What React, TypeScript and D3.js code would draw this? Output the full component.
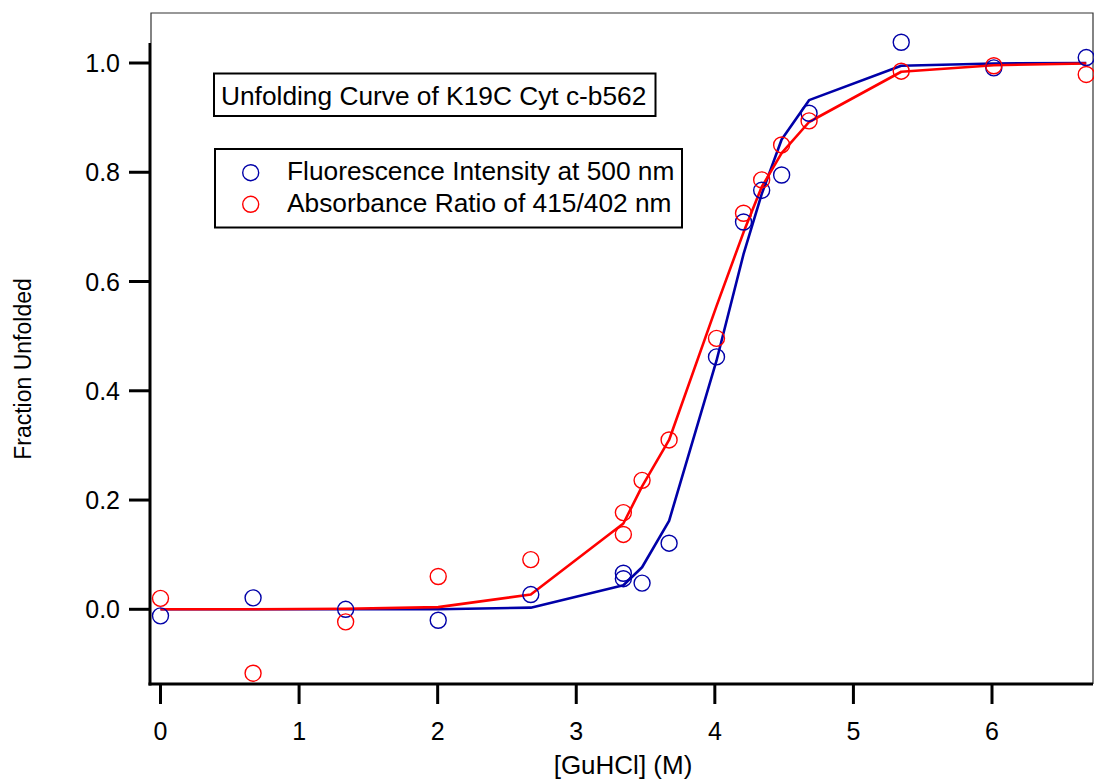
import React from "react";
import * as d3 from "d3";

// ---- data ----
const concX = [0, 0.668, 1.336, 2.004, 2.672, 3.34, 3.34, 3.475, 3.67, 4.012, 4.207, 4.338, 4.482, 4.68, 5.345, 6.013, 6.68];
const fluorY = [-0.012, 0.021, 0.0, -0.02, 0.027, 0.066, 0.056, 0.048, 0.121, 0.462, 0.709, 0.767, 0.795, 0.908, 1.038, 0.991, 1.01];
const absY = [0.02, -0.117, -0.023, 0.06, 0.091, 0.177, 0.137, 0.236, 0.31, 0.496, 0.725, 0.786, 0.85, 0.894, 0.985, 0.995, 0.979];

const fitX = [0, 0.668, 1.336, 2.004, 2.672, 3.34, 3.475, 3.67, 4.012, 4.207, 4.338, 4.482, 4.68, 5.345, 6.013, 6.68];
const fluorFit = [0, 0, 0, 0, 0.003, 0.044, 0.077, 0.162, 0.455, 0.65, 0.76, 0.86, 0.932, 0.995, 0.999, 1.0];
const absFit = [0, 0, 0.001, 0.004, 0.027, 0.157, 0.225, 0.31, 0.555, 0.69, 0.773, 0.835, 0.892, 0.984, 0.996, 0.999];

const xTicks = [0, 1, 2, 3, 4, 5, 6];
const yTicks = [0.0, 0.2, 0.4, 0.6, 0.8, 1.0];

const titleText = "Unfolding Curve of K19C Cyt c-b562";
const legendLabels = ["Fluorescence Intensity at 500 nm", "Absorbance Ratio of 415/402 nm"];
const xTitle = "[GuHCl] (M)";
const yTitle = "Fraction Unfolded";

const BLUE = "#0000a8";
const RED = "#ff0000";
const FONT = "'Liberation Sans', Arial, Helvetica, sans-serif";

export default function App() {
  const W = 1094, H = 782;
  const x = d3.scaleLinear().domain([0, 6]).range([160.5, 992]);
  const y = d3.scaleLinear().domain([0, 1]).range([609.3, 63]);

  const plotLeft = 150, plotRight = 1093, plotTop = 13, plotBottom = 684;
  const yAxisTop = 43;

  const line = d3.line<number>()
    .x((_, i) => x(fitX[i]))
    .y((d) => y(d));

  const legendColors = [BLUE, RED];

  return (
    <svg width={W} height={H} style={{ position: "absolute", left: 0, top: 0, display: "block", background: "#fff" }} fontFamily={FONT}>
      <rect x={0} y={0} width={W} height={H} fill="#fff" />
      {/* thin frame */}
      <path d={`M${plotLeft + 1},${yAxisTop} V${plotTop} H${plotRight} V${plotBottom}`} fill="none" stroke="#333" strokeWidth={1.2} />

      {/* fit lines */}
      <path d={line(fluorFit) || ""} fill="none" stroke={BLUE} strokeWidth={2.6} strokeLinejoin="round" />
      <path d={line(absFit) || ""} fill="none" stroke={RED} strokeWidth={2.6} strokeLinejoin="round" />

      {/* markers */}
      {concX.map((cx, i) => (
        <circle key={"b" + i} cx={x(cx)} cy={y(fluorY[i])} r={8} fill="none" stroke={BLUE} strokeWidth={1.4} />
      ))}
      {concX.map((cx, i) => (
        <circle key={"r" + i} cx={x(cx)} cy={y(absY[i])} r={8} fill="none" stroke={RED} strokeWidth={1.4} />
      ))}

      {/* axes */}
      <line x1={plotLeft} y1={yAxisTop} x2={plotLeft} y2={plotBottom + 1.5} stroke="#000" strokeWidth={3} />
      <line x1={plotLeft - 1.5} y1={plotBottom} x2={plotRight} y2={plotBottom} stroke="#000" strokeWidth={3} />

      {yTicks.map((t) => (
        <g key={"yt" + t}>
          <line x1={plotLeft - 21} x2={plotLeft} y1={y(t)} y2={y(t)} stroke="#000" strokeWidth={3} />
          <text x={120} y={y(t)} dy="0.36em" textAnchor="end" fontSize={25} fill="#000">{t.toFixed(1)}</text>
        </g>
      ))}
      {xTicks.map((t) => (
        <g key={"xt" + t}>
          <line x1={x(t)} x2={x(t)} y1={plotBottom} y2={plotBottom + 20} stroke="#000" strokeWidth={3} />
          <text x={x(t)} y={740} textAnchor="middle" fontSize={25} fill="#000">{t}</text>
        </g>
      ))}

      <text x={623} y={774} textAnchor="middle" fontSize={26} fill="#000">{xTitle}</text>
      <text transform={`translate(31,369) rotate(-90)`} textAnchor="middle" fontSize={23} fill="#000">{yTitle}</text>

      {/* title box */}
      <rect x={214} y={73.5} width={441.5} height={42.5} fill="#fff" stroke="#000" strokeWidth={2} />
      <text x={221} y={104.5} fontSize={26.3} fill="#000">{titleText}</text>

      {/* legend */}
      <rect x={215} y={149} width={467} height={78.5} fill="#fff" stroke="#000" strokeWidth={2} />
      {legendLabels.map((lab, i) => (
        <g key={"lg" + i}>
          <circle cx={250.7} cy={172.7 + i * 31.6} r={8} fill="none" stroke={legendColors[i]} strokeWidth={1.4} />
          <text x={287} y={179.5 + i * 32} fontSize={26.3} fill="#000">{lab}</text>
        </g>
      ))}
    </svg>
  );
}
